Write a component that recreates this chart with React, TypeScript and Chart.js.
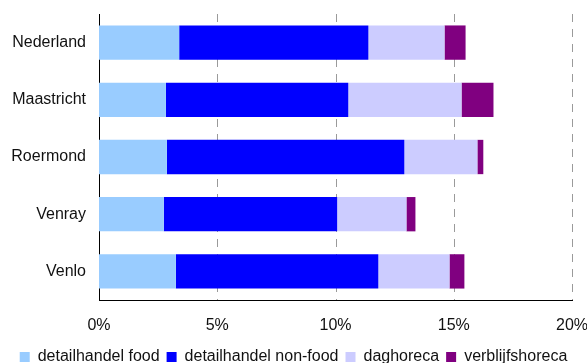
import React, { useEffect, useRef } from "react";
import { Chart, registerables } from "chart.js";

Chart.register(...registerables);

// Regions shown as rows
const regions = ["Nederland", "Maastricht", "Roermond", "Venray", "Venlo"];

// Share per sector (percent), one value per region
const foodValues = [3.39, 2.83, 2.87, 2.74, 3.25];
const nonFoodValues = [8.0, 7.71, 10.04, 7.33, 8.56];
const dagHorecaValues = [3.22, 4.79, 3.09, 2.93, 3.01];
const verblijfValues = [0.89, 1.35, 0.25, 0.38, 0.63];

const seriesNames = [
  "detailhandel food",
  "detailhandel non-food",
  "daghoreca",
  "verblijfshoreca",
];
const seriesColors = ["#99CCFF", "#0000FF", "#CCCCFF", "#800080"];

const xTicks = [0, 5, 10, 15, 20];

const FONT = "'Liberation Sans', Arial, Helvetica, sans-serif";
const FONT_SIZE = 16;

// Dashed vertical gridlines drawn behind the bars (8px dash, 7px gap)
const dashedGrid = {
  id: "dashedGrid",
  beforeDatasetsDraw(chart: any) {
    const { ctx, chartArea, scales } = chart;
    const xs = scales.x;
    ctx.save();
    ctx.fillStyle = "#9a9a9a";
    xTicks.forEach((v) => {
      if (v === 0) return;
      const px = Math.round(xs.getPixelForValue(v));
      for (let y = chartArea.top; y < chartArea.bottom; y += 15) {
        const len = Math.min(8, chartArea.bottom - y);
        ctx.fillRect(px, y, 1, len);
      }
    });
    ctx.restore();
  },
};

export default function App() {
  const canvasRef = useRef<HTMLCanvasElement | null>(null);

  useEffect(() => {
    document.body.style.margin = "0";
    const canvas = canvasRef.current;
    if (!canvas) return;
    const seriesValues = [foodValues, nonFoodValues, dagHorecaValues, verblijfValues];
    const chart = new Chart(canvas, {
      type: "bar",
      data: {
        labels: regions,
        datasets: seriesNames.map((name, i) => ({
          label: name,
          data: seriesValues[i],
          backgroundColor: seriesColors[i],
          borderWidth: 0,
          categoryPercentage: 1,
          barPercentage: 0.6,
        })),
      },
      plugins: [dashedGrid],
      options: {
        indexAxis: "y",
        animation: false,
        responsive: true,
        maintainAspectRatio: false,
        layout: { padding: { top: 14, right: 0, left: 0, bottom: 0 } },
        plugins: {
          tooltip: { enabled: false },
          legend: {
            position: "bottom",
            labels: {
              boxWidth: 10,
              boxHeight: 10,
              padding: 7,
              color: "#111",
              font: { family: FONT, size: FONT_SIZE },
            },
          },
        },
        scales: {
          x: {
            stacked: true,
            min: 0,
            max: 20,
            afterBuildTicks: (scale: any) => {
              scale.ticks = xTicks.map((v) => ({ value: v }));
            },
            afterFit: (scale: any) => {
              scale.height = 42;
              scale.paddingLeft = 0;
              scale.paddingRight = 15;
            },
            ticks: {
              padding: 16,
              color: "#111",
              font: { family: FONT, size: FONT_SIZE },
              callback: (v: any) => `${v}%`,
            },
            grid: { display: false, drawTicks: false },
            border: { display: true, color: "#000", width: 1 },
          },
          y: {
            stacked: true,
            afterFit: (scale: any) => {
              scale.width = 99;
              scale.paddingTop = 0;
              scale.paddingBottom = 0;
            },
            ticks: {
              padding: 13,
              color: "#111",
              font: { family: FONT, size: FONT_SIZE },
            },
            grid: { display: false, drawTicks: false },
            border: { display: true, color: "#000", width: 1 },
          },
        },
      },
    });
    return () => chart.destroy();
  }, []);

  return (
    <div style={{ position: "absolute", left: 0, top: 0, width: 587, height: 363, overflow: "hidden" }}>
      <div style={{ position: "relative", width: 587, height: 375 }}>
        <canvas ref={canvasRef} />
      </div>
    </div>
  );
}
